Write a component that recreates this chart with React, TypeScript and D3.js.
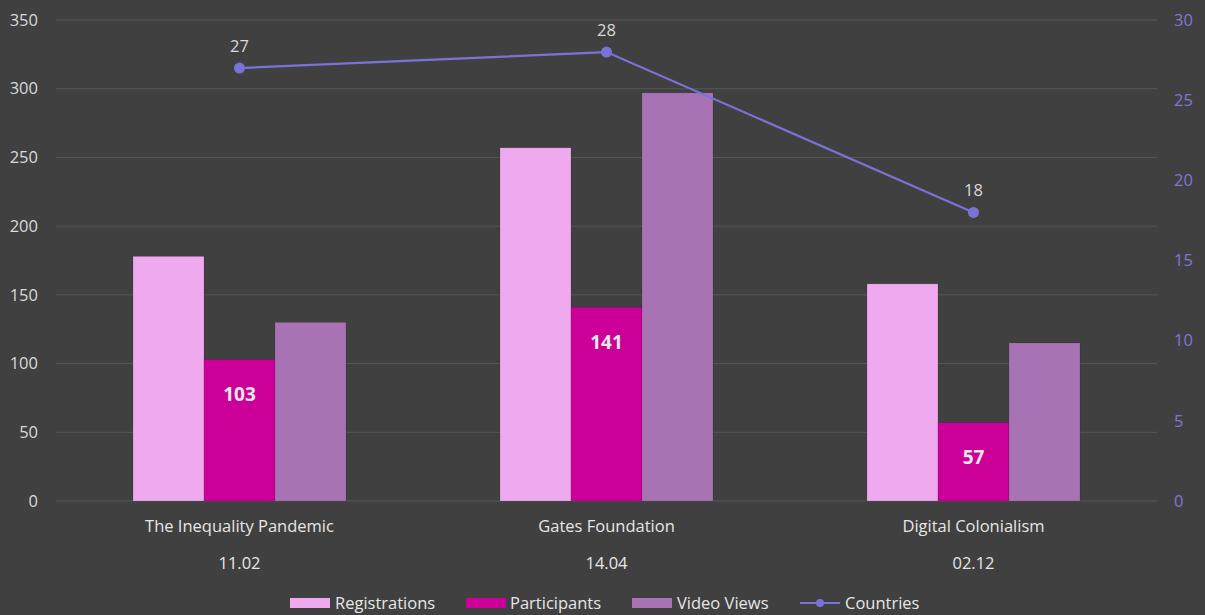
import React from "react";
import * as d3 from "d3";

const categories = ["The Inequality Pandemic", "Gates Foundation", "Digital Colonialism"];
const dates = ["11.02", "14.04", "02.12"];
const registrations = [178, 257, 158];
const participants = [103, 141, 57];
const videoViews = [130, 297, 115];
const countries = [27, 28, 18];
const leftTicks = [0, 50, 100, 150, 200, 250, 300, 350];
const rightTicks = [0, 5, 10, 15, 20, 25, 30];

const W = 1205, H = 615;
const left = 56, right = 1157, top = 20, bottom = 501;
const font = "'Open Sans', 'Noto Sans', sans-serif";
const fs = 16.5;

export default function App() {
  const x = d3.scaleBand<string>().domain(categories).range([left, right]).paddingInner(0).paddingOuter(0);
  const y = d3.scaleLinear().domain([0, 350]).range([bottom, top]);
  const y2 = d3.scaleLinear().domain([0, 30]).range([bottom, top]);
  const bw = 71;
  const series = [
    { name: "Registrations", values: registrations, color: "#efa9ef" },
    { name: "Participants", values: participants, color: "#cc0099" },
    { name: "Video Views", values: videoViews, color: "#a873b4" },
  ];
  const cx = (c: string) => (x(c) as number) + x.bandwidth() / 2;
  const line = d3.line<number>().x((_, i) => cx(categories[i])).y((d) => y2(d));

  const legend = [
    { name: "Registrations", color: "#efa9ef", sx: 290, tx: 335 },
    { name: "Participants", color: "#cc0099", sx: 466, tx: 510 },
    { name: "Video Views", color: "#a873b4", sx: 632, tx: 677 },
  ];

  return (
    <svg width={W} height={H} style={{ position: "fixed", left: 0, top: 0, background: "#404040" }}>
      <rect width={W} height={H} fill="#404040" />
      {leftTicks.map((t) => (
        <g key={t}>
          <line x1={left} x2={right} y1={y(t)} y2={y(t)} stroke="#565656" strokeWidth={1} />
          <text x={38} y={y(t)} dy="0.35em" textAnchor="end" fill="#d9d9d9" fontSize={fs} fontFamily={font}>{t}</text>
        </g>
      ))}
      {rightTicks.map((t) => (
        <text key={t} x={1174} y={y2(t)} dy="0.35em" textAnchor="start" fill="#7f77d6" fontSize={fs} fontFamily={font}>{t}</text>
      ))}
      {categories.map((c, ci) => (
        <g key={c}>
          {series.map((s, si) => {
            const bx = cx(c) - (bw * 3) / 2 + si * bw;
            return (
              <rect key={s.name} x={bx} y={y(s.values[ci])} width={bw} height={bottom - y(s.values[ci])}
                fill={s.color} stroke="rgba(0,0,0,0.15)" strokeWidth={0.8} />
            );
          })}
          <text x={cx(c)} y={y(participants[ci]) + 35} dy="0.35em" textAnchor="middle" fill="#e8e8e8"
            fontSize={19} fontWeight="bold" fontFamily={font}>{participants[ci]}</text>
          <text x={cx(c)} y={526} dy="0.35em" textAnchor="middle" fill="#e6e6e6" fontSize={fs} fontFamily={font}>{c}</text>
          <text x={cx(c)} y={563} dy="0.35em" textAnchor="middle" fill="#e6e6e6" fontSize={fs} fontFamily={font}>{dates[ci]}</text>
        </g>
      ))}
      <path d={line(countries) as string} fill="none" stroke="#7b72d8" strokeWidth={2.2} />
      {countries.map((v, i) => (
        <g key={i}>
          <circle cx={cx(categories[i])} cy={y2(v)} r={5.5} fill="#7b72d8" />
          <text x={cx(categories[i])} y={y2(v) - 22} dy="0.35em" textAnchor="middle" fill="#d9d9d9" fontSize={fs} fontFamily={font}>{v}</text>
        </g>
      ))}
      {legend.map((l) => (
        <g key={l.name}>
          <rect x={l.sx} y={598} width={40} height={10} fill={l.color} />
          <text x={l.tx} y={603} dy="0.35em" fill="#e6e6e6" fontSize={fs} fontFamily={font}>{l.name}</text>
        </g>
      ))}
      <line x1={800} x2={840} y1={603} y2={603} stroke="#7b72d8" strokeWidth={2.2} />
      <circle cx={820} cy={603} r={4} fill="#7b72d8" />
      <text x={845} y={603} dy="0.35em" fill="#e6e6e6" fontSize={fs} fontFamily={font}>Countries</text>
    </svg>
  );
}
